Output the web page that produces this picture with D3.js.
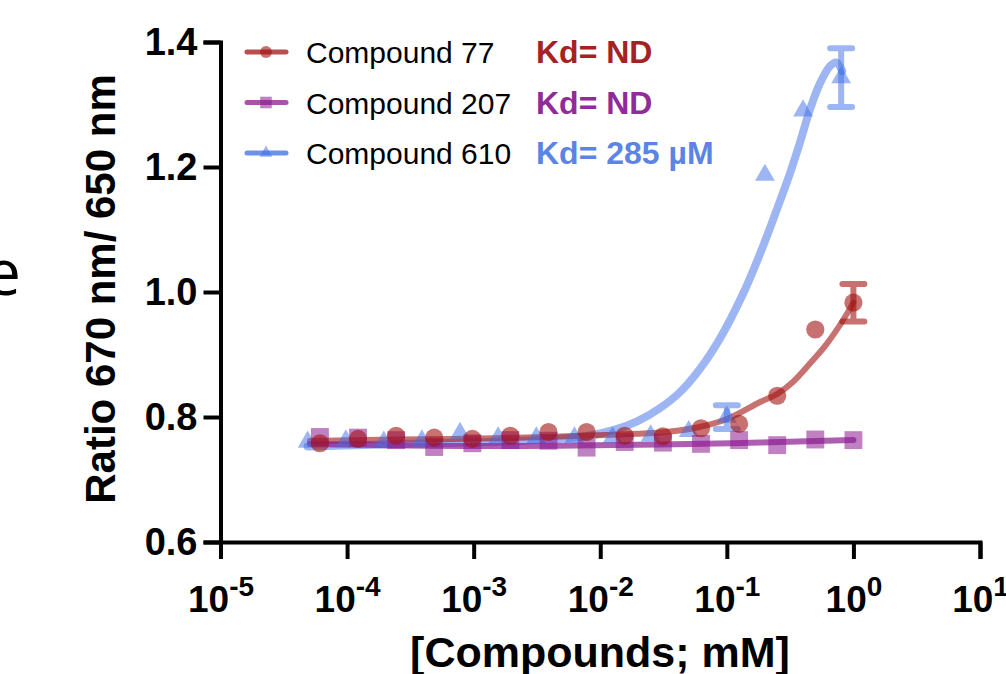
<!DOCTYPE html>
<html>
<head>
<meta charset="utf-8">
<script src="https://cdn.jsdelivr.net/npm/d3@7"></script>
<style>
  body { margin: 0; background: #fff; }
  svg { display: block; font-family: "Liberation Sans", Arial, Helvetica, sans-serif; }
  .axis path, .axis line { stroke: #000; stroke-width: 4; }
  .axis text { font-weight: bold; font-size: 38px; fill: #000; }
</style>
</head>
<body>
<div id="chart"></div>
<script>
// Binding curves: ratio 670/650 nm vs. compound concentration (mM).
var yTicks = [0.6, 0.8, 1.0, 1.2, 1.4],
	xTicks = [1e-5, 1e-4, 1e-3, 1e-2, 1e-1, 1, 10],
	xTickExp = ["-5", "-4", "-3", "-2", "-1", "0", "1"];

var names = ["Compound 77", "Compound 207", "Compound 610"],
	kdLabels = ["Kd= ND", "Kd= ND", "Kd= 285 µM"];

// concentrations (mM)
var conc77 = [0.000061, 0.000122, 0.000244, 0.000488, 0.000977, 0.00195, 0.0039, 0.0078, 0.0156, 0.03125, 0.0625, 0.125, 0.25, 0.5, 1],
	conc207 = [0.000061, 0.000122, 0.000244, 0.000488, 0.000977, 0.00195, 0.0039, 0.0078, 0.0156, 0.03125, 0.0625, 0.125, 0.25, 0.5, 1],
	conc610 = [0.0000488, 0.0000977, 0.000195, 0.00039, 0.00078, 0.00156, 0.003125, 0.00625, 0.0125, 0.025, 0.05, 0.1, 0.2, 0.4, 0.8];

// measured ratios
var ratio77 = [0.758, 0.765, 0.770, 0.767, 0.765, 0.770, 0.776, 0.776, 0.770, 0.769, 0.782, 0.789, 0.834, 0.940, 0.983],
	ratio207 = [0.768, 0.767, 0.763, 0.752, 0.758, 0.763, 0.762, 0.751, 0.760, 0.759, 0.757, 0.763, 0.755, 0.764, 0.763],
	ratio610 = [0.760, 0.762, 0.760, 0.762, 0.774, 0.767, 0.767, 0.767, 0.767, 0.770, 0.777, 0.800, 1.187, 1.290, 1.343];

// error bars (only the ones visible beyond the symbols)
var err77 = [0, 0, 0, 0, 0, 0, 0, 0, 0, 0, 0, 0, 0, 0, 0.030],
	err207 = [0, 0, 0, 0, 0, 0, 0, 0, 0, 0, 0, 0, 0, 0, 0],
	err610 = [0, 0, 0, 0, 0, 0, 0, 0, 0, 0, 0, 0.019, 0, 0, 0.047];

// fitted curves
var fitConc77 = [0.0000509, 0.000262, 0.001124, 0.00482, 0.01436, 0.02972, 0.0542, 0.1005, 0.1832, 0.2497, 0.3342, 0.455, 0.6203, 0.8299, 1],
	fitRatio77 = [0.7616, 0.7640, 0.7656, 0.7688, 0.7720, 0.7752, 0.7819, 0.7968, 0.8240, 0.8368, 0.8565, 0.8859, 0.9179, 0.9552, 0.983];
var fitConc207 = [0.0000509, 0.001124, 0.02972, 0.1832, 1],
	fitRatio207 = [0.7568, 0.7536, 0.7560, 0.7592, 0.7632];
var fitConc610 = [0.0000488, 0.000377, 0.002328, 0.00787, 0.01309, 0.01954, 0.02972, 0.04276, 0.06152, 0.08851, 0.1346, 0.1832, 0.241, 0.3162, 0.3793, 0.455, 0.5458, 0.6546, 0.7311, 0.8147],
	fitRatio610 = [0.7528, 0.7576, 0.7616, 0.7696, 0.7797, 0.7930, 0.8144, 0.840, 0.8774, 0.9261, 0.9976, 1.0616, 1.1248, 1.1904, 1.240, 1.2928, 1.3344, 1.3616, 1.3672, 1.3536];

var width = 1006,
	height = 674;

var svg = d3.select("#chart").append("svg")
	.attr("width", width)
	.attr("height", height);

var x = d3.scaleLog().domain([1e-5, 10]).range([220.5, 980]),
	y = d3.scaleLinear().domain([0.6, 1.4]).range([542, 42]);

var series = [
	{name: names[0], kd: kdLabels[0], conc: conc77, ratio: ratio77, err: err77, fc: fitConc77, fr: fitRatio77,
		color: "#a31212", text: "#a52222", op: 0.6, lw: 6, sym: d3.symbolCircle, size: 260},
	{name: names[1], kd: kdLabels[1], conc: conc207, ratio: ratio207, err: err207, fc: fitConc207, fr: fitRatio207,
		color: "#8b1a90", text: "#922a99", op: 0.55, lw: 6, sym: d3.symbolSquare, size: 320},
	{name: names[2], kd: kdLabels[2], conc: conc610, ratio: ratio610, err: err610, fc: fitConc610, fr: fitRatio610,
		color: "#3b6ee8", text: "#5b84e6", op: 0.5, lw: 8, sym: d3.symbolTriangle, size: 170}
];

// cropped slide text at the far left
svg.append("text")
	.attr("x", 21)
	.attr("y", 295)
	.attr("text-anchor", "end")
	.style("font-family", "'Open Sans', sans-serif")
	.style("font-weight", 400)
	.style("font-size", "64px")
	.style("fill", "#000")
	.text("e");

// axes
svg.append("g")
	.attr("class", "axis axis--y")
	.attr("transform", "translate(" + x(1e-5) + ",0)")
	.call(d3.axisLeft(y).tickValues(yTicks).tickSize(17).tickPadding(6).tickFormat(d3.format(".1f")));

var xAxis = svg.append("g")
	.attr("class", "axis axis--x")
	.attr("transform", "translate(0," + y(0.6) + ")")
	.call(d3.axisBottom(x).tickValues(xTicks).tickSize(17).tickFormat(""));

xAxis.selectAll(".tick").each(function(d, i) {
	var t = d3.select(this).select("text")
		.attr("y", 70)
		.attr("dy", null)
		.attr("text-anchor", "middle")
		.style("font-size", "37px");
	t.append("tspan").text("10");
	t.append("tspan")
		.attr("dy", -16)
		.style("font-size", "28px")
		.text(xTickExp[i]);
});

svg.append("text")
	.attr("transform", "translate(115,289) rotate(-90)")
	.attr("text-anchor", "middle")
	.style("font-weight", "bold")
	.style("font-size", "42px")
	.text("Ratio 670 nm/ 650 nm");

svg.append("text")
	.attr("x", 600)
	.attr("y", 667)
	.attr("text-anchor", "middle")
	.style("font-weight", "bold")
	.style("font-size", "43px")
	.text("[Compounds; mM]");

// fit lines
var fitLine = d3.line()
	.x(function(d) { return x(d[0]); })
	.y(function(d) { return y(d[1]); })
	.curve(d3.curveCatmullRom);

var plotOrder = [2, 0, 1];

plotOrder.forEach(function(k) {
	var s = series[k];
	svg.append("path")
		.attr("class", "fit")
		.attr("d", fitLine(s.fc.map(function(c, i) { return [c, s.fr[i]]; })))
		.style("fill", "none")
		.style("stroke", s.color)
		.style("stroke-opacity", k === 1 ? 0.7 : s.op)
		.style("stroke-width", s.lw)
		.style("stroke-linecap", "round");
});

// error bars
series.forEach(function(s) {
	var pts = s.conc.map(function(c, i) { return {c: c, v: s.ratio[i], e: s.err[i]}; })
		.filter(function(d) { return d.e > 0; });
	var g = svg.append("g")
		.style("stroke", s.color)
		.style("stroke-opacity", s.op)
		.style("stroke-width", 6)
		.style("stroke-linecap", "round")
		.style("fill", "none");
	pts.forEach(function(d) {
		var cx = x(d.c), y0 = y(d.v - d.e), y1 = y(d.v + d.e);
		g.append("path").attr("d", "M" + cx + "," + y0 + "V" + y1 +
			"M" + (cx - 11) + "," + y1 + "H" + (cx + 11) +
			"M" + (cx - 11) + "," + y0 + "H" + (cx + 11));
	});
});

// symbols
[2, 1, 0].forEach(function(k) {
	var s = series[k];
	svg.append("g").selectAll("path")
		.data(s.conc.map(function(c, i) { return [c, s.ratio[i]]; }))
		.enter().append("path")
		.attr("transform", function(d) { return "translate(" + x(d[0]) + "," + y(d[1]) + ")"; })
		.attr("d", d3.symbol().type(s.sym).size(s.size))
		.style("fill", s.color)
		.style("fill-opacity", s.op);
});

// legend
var legend = svg.append("g").attr("class", "legend");
series.forEach(function(s, i) {
	var ly = 52 + i * 50.5;
	legend.append("line")
		.attr("x1", 247).attr("x2", 286)
		.attr("y1", ly).attr("y2", ly)
		.style("stroke", s.color)
		.style("stroke-opacity", 0.75)
		.style("stroke-width", 5)
		.style("stroke-linecap", "round");
	legend.append("path")
		.attr("transform", "translate(266," + ly + ")")
		.attr("d", d3.symbol().type(s.sym).size(s.size * 0.42))
		.style("fill", s.color)
		.style("fill-opacity", s.op);
	legend.append("text")
		.attr("x", 306)
		.attr("y", ly + 11)
		.style("font-size", "30px")
		.style("fill", "#000")
		.text(s.name);
	legend.append("text")
		.attr("x", 536)
		.attr("y", ly + 11)
		.style("font-size", "32px")
		.style("font-weight", "bold")
		.style("fill", s.text)
		.text(s.kd);
});
</script>
</body>
</html>
